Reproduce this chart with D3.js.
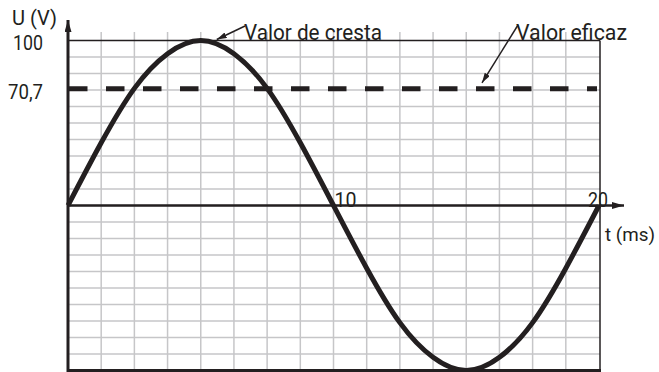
<!DOCTYPE html>
<html>
    <head>
        <meta charset="utf-8">
        <title>Valor de cresta y valor eficaz</title>
        <script type="text/javascript" src="https://cdn.jsdelivr.net/npm/d3@7"></script>
        <style>
            body { margin: 0; background: #fff; }
            text { font-family: Roboto, "Liberation Sans", sans-serif; fill: #231f20; }
        </style>
    </head>
    <body>
        <script type="text/javascript">
            // tiempo (ms) en cada línea de la cuadrícula y tensión
            var tiempos = [0, 1.25, 2.5, 3.75, 5, 6.25, 7.5, 8.75, 10,
                           11.25, 12.5, 13.75, 15, 16.25, 17.5, 18.75, 20];
            var tensiones = [0, 38, 71, 92, 100, 92, 71, 38, 0,
                             -38, -71, -92, -100, -92, -71, -38, 0];
            var valorCresta = 100;
            var valorEficaz = 70.7;
            var ticksX = [10, 20];
            var ticksY = [100, 70.7];
            var etiquetasY = ["100", "70,7"];

            var w = 659;
            var h = 372;
            var oscuro = "#231f20";
            var gris = "#c6c6c8";

            var svg = d3.select("body")
                    .append("svg")
                    .attr("width", w)
                    .attr("height", h);

            var xScale = d3.scaleLinear()
                    .domain([0, 20])
                    .range([68, 599]);
            var yScale = d3.scaleLinear()
                    .domain([-100, 100])
                    .range([370.5, 40.5]);

            var defs = svg.append("defs");
            function flecha(id, len, wid) {
                defs.append("marker")
                    .attr("id", id)
                    .attr("viewBox", "0 0 " + len + " " + wid)
                    .attr("refX", len)
                    .attr("refY", wid / 2)
                    .attr("markerWidth", len)
                    .attr("markerHeight", wid)
                    .attr("markerUnits", "userSpaceOnUse")
                    .attr("orient", "auto")
                    .append("path")
                    .attr("d", "M0,0L" + len + "," + (wid / 2) + "L0," + wid + "Z")
                    .attr("fill", oscuro);
            }
            flecha("ejeFlecha", 12, 7);
            flecha("notaFlecha", 10, 6);

            // texto estrecho, como la tipografía condensada del original
            function texto(t, x, y, size, ancho, anchor) {
                return svg.append("text").text(t)
                    .attr("x", x).attr("y", y)
                    .attr("font-size", size + "px")
                    .attr("text-anchor", anchor || "start")
                    .attr("textLength", ancho)
                    .attr("lengthAdjust", "spacingAndGlyphs");
            }

            // cuadrícula
            var pasoT = d3.range(1.25, 20, 1.25);
            svg.selectAll(".vgrid").data(pasoT).enter()
                .append("line")
                .attr("x1", function(d) { return xScale(d); })
                .attr("x2", function(d) { return xScale(d); })
                .attr("y1", 32)
                .attr("y2", yScale(-100))
                .attr("stroke", gris)
                .attr("stroke-width", 1.5);

            var pasoU = d3.range(-90, 100, 10);
            svg.selectAll(".hgrid").data(pasoU).enter()
                .append("line")
                .attr("x1", xScale(0))
                .attr("x2", xScale(20) + 1)
                .attr("y1", function(d) { return yScale(d); })
                .attr("y2", function(d) { return yScale(d); })
                .attr("stroke", gris)
                .attr("stroke-width", 1.5);

            // marco
            svg.append("line")
                .attr("x1", xScale(0)).attr("x2", xScale(20) + 1)
                .attr("y1", yScale(100)).attr("y2", yScale(100))
                .attr("stroke", oscuro).attr("stroke-width", 1.5);
            svg.append("line")
                .attr("x1", xScale(20) + 1).attr("x2", xScale(20) + 1)
                .attr("y1", yScale(100)).attr("y2", yScale(-100))
                .attr("stroke", oscuro).attr("stroke-width", 1.5);
            svg.append("line")
                .attr("x1", xScale(0)).attr("x2", xScale(20) + 2)
                .attr("y1", yScale(-100)).attr("y2", yScale(-100))
                .attr("stroke", oscuro).attr("stroke-width", 3);

            // ejes
            svg.append("line")
                .attr("x1", xScale(0)).attr("x2", xScale(0))
                .attr("y1", yScale(-100) + 1.5).attr("y2", 20)
                .attr("stroke", oscuro).attr("stroke-width", 3)
                .attr("marker-end", "url(#ejeFlecha)");
            svg.append("line")
                .attr("x1", xScale(0)).attr("x2", 624)
                .attr("y1", yScale(0)).attr("y2", yScale(0))
                .attr("stroke", oscuro).attr("stroke-width", 2.5)
                .attr("marker-end", "url(#ejeFlecha)");

            // valor eficaz
            svg.append("line")
                .attr("x1", xScale(0) + 1).attr("x2", xScale(20) - 2)
                .attr("y1", yScale(valorEficaz)).attr("y2", yScale(valorEficaz))
                .attr("stroke", oscuro).attr("stroke-width", 5)
                .attr("stroke-dasharray", "18.5,18.5");

            // curva
            var datos = tiempos.map(function(t, i) { return {x: t, y: tensiones[i]}; });
            var line = d3.line()
                .x(function(d) { return xScale(d.x); })
                .y(function(d) { return yScale(d.y); })
                .curve(d3.curveNatural);
            svg.append("path")
                .attr("d", line(datos))
                .attr("fill", "none")
                .attr("stroke", oscuro)
                .attr("stroke-width", 5);

            // etiquetas de los ejes
            texto(etiquetasY[0], 43, yScale(ticksY[0]) + 9.5, 20, 30, "end");
            texto(etiquetasY[1], 43, yScale(ticksY[1]) + 10, 20, 35, "end");
            texto(String(ticksX[0]), xScale(ticksX[0]) + 1, yScale(0) + 1.5, 20, 22);
            texto(String(ticksX[1]), xScale(ticksX[1]) - 11, yScale(0) + 1, 20, 20);

            texto("U (V)", 12, 25, 21, 45);
            texto("t (ms)", 605, 241, 19, 50);

            // notas
            texto("Valor de cresta", 244, 39.5, 22, 138);
            svg.append("line")
                .attr("x1", 245).attr("y1", 26)
                .attr("x2", xScale(5) + 16).attr("y2", yScale(valorCresta) - 1)
                .attr("stroke", oscuro).attr("stroke-width", 1.5)
                .attr("marker-end", "url(#notaFlecha)");

            texto("Valor eficaz", 516, 39.5, 22, 111);
            svg.append("line")
                .attr("x1", 518).attr("y1", 25)
                .attr("x2", 482).attr("y2", yScale(valorEficaz) - 6)
                .attr("stroke", oscuro).attr("stroke-width", 1.5)
                .attr("marker-end", "url(#notaFlecha)");
        </script>
    </body>
</html>
